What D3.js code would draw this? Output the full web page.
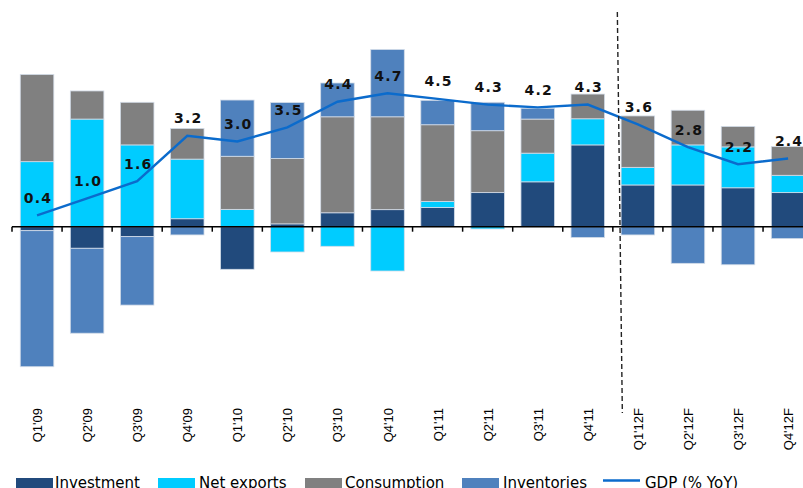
<!DOCTYPE html>
<html>
<head>
<meta charset="utf-8">
<script src="https://cdn.jsdelivr.net/npm/d3@7"></script>
<style>
  html, body { margin: 0; padding: 0; background: #fff; }
  svg { display: block; }
</style>
</head>
<body>
<svg id="chart" width="803" height="488"></svg>
<script>
const categories = ["Q1'09","Q2'09","Q3'09","Q4'09","Q1'10","Q2'10","Q3'10","Q4'10","Q1'11","Q2'11","Q3'11","Q4'11","Q1'12F","Q2'12F","Q3'12F","Q4'12F"];
const investment  = [-0.14,-0.76,-0.35, 0.28,-1.50, 0.10, 0.49, 0.60, 0.68, 1.20, 1.58, 2.88, 1.47, 1.47, 1.37, 1.20];
const netExports  = [ 2.29, 3.79, 2.88, 2.10, 0.61,-0.89,-0.69,-1.56, 0.21,-0.08, 1.01, 0.92, 0.62, 1.41, 1.44, 0.61];
const consumption = [ 3.07, 0.99, 1.50, 1.08, 1.87, 2.30, 3.38, 3.27, 2.70, 2.18, 1.20, 0.87, 1.81, 1.22, 0.72, 1.01];
const inventories = [-4.79,-2.99,-2.41,-0.29, 1.98, 1.97, 1.19, 2.37, 0.86, 1.00, 0.38,-0.38,-0.29,-1.29,-1.34,-0.42];
const gdp         = [0.4, 1.0, 1.6, 3.2, 3.0, 3.5, 4.4, 4.7, 4.5, 4.3, 4.2, 4.3, 3.6, 2.8, 2.2, 2.4];
const seriesNames = ["Investment","Net exports","Consumption","Inventories"];
const lineName = "GDP (% YoY)";
const firstForecast = "Q1'12F";

const colors = {"Investment":"#214a7c","Net exports":"#00ccff","Consumption":"#808080","Inventories":"#4f81bd"};
const lineColor = "#0b6bcc";

const svg = d3.select("#chart");

const x = d3.scaleBand().domain(categories).range([12, 12 + 16 * 50.07]).paddingInner(0.33).paddingOuter(0.165);
const y = d3.scaleLinear().domain([-5, 5]).range([226.7 + 142, 226.7 - 142]);

const rows = categories.map((c, i) => ({
  cat: c,
  "Investment": investment[i],
  "Net exports": netExports[i],
  "Consumption": consumption[i],
  "Inventories": inventories[i]
}));

const stacked = d3.stack().keys(seriesNames).offset(d3.stackOffsetDiverging)(rows);

svg.append("g").selectAll("g")
  .data(stacked)
  .join("g")
  .attr("fill", d => colors[d.key])
  .selectAll("rect")
  .data(d => d)
  .join("rect")
  .attr("x", d => x(d.data.cat))
  .attr("width", x.bandwidth())
  .attr("y", d => y(Math.max(d[0], d[1])))
  .attr("height", d => Math.abs(y(d[0]) - y(d[1])))
  .attr("stroke", "#d3dce8")
  .attr("stroke-width", 0.8);

// zero axis
const step = x.step();
const off = (step - x.bandwidth()) / 2;
const left = x(categories[0]) - off;
svg.append("line")
  .attr("x1", left).attr("x2", 803 + 20)
  .attr("y1", y(0)).attr("y2", y(0))
  .attr("stroke", "#000").attr("stroke-width", 1.6);
svg.append("g").selectAll("line")
  .data(d3.range(categories.length + 1))
  .join("line")
  .attr("x1", i => left + i * step).attr("x2", i => left + i * step)
  .attr("y1", y(0)).attr("y2", y(0) + 5)
  .attr("stroke", "#000").attr("stroke-width", 1.5);

// category labels
svg.append("g").selectAll("text")
  .data(categories)
  .join("text")
  .attr("transform", c => `translate(${x(c) + x.bandwidth() / 2 + 5},408) rotate(-90)`)
  .attr("text-anchor", "end")
  .attr("font-family", "'Liberation Sans', Arial, sans-serif")
  .attr("font-size", 13)
  .attr("fill", "#000")
  .text(c => c);

// GDP line
const line = d3.line()
  .x((d, i) => x(categories[i]) + x.bandwidth() / 2)
  .y(d => y(d));
svg.append("path")
  .datum(gdp)
  .attr("d", line)
  .attr("fill", "none")
  .attr("stroke", lineColor)
  .attr("stroke-width", 2.4);

// data labels
svg.append("g").selectAll("text")
  .data(gdp)
  .join("text")
  .attr("x", (d, i) => x(categories[i]) + x.bandwidth() / 2 + 1)
  .attr("y", d => y(d) - 12.5)
  .attr("text-anchor", "middle")
  .attr("font-family", "'DejaVu Sans', Verdana, sans-serif")
  .attr("font-weight", "bold")
  .attr("font-size", 14)
  .attr("letter-spacing", 1.2)
  .attr("fill", "#111")
  .text(d => d.toFixed(1));

// forecast divider
const divX = x(firstForecast) - off;
svg.append("line")
  .attr("x1", divX + 4.5).attr("y1", 12)
  .attr("x2", divX + 9.5).attr("y2", 413)
  .attr("stroke", "#222").attr("stroke-width", 1.4)
  .attr("stroke-dasharray", "5,3");

// legend
const legendItems = [
  {name: seriesNames[0], sx: 16, tx: 55},
  {name: seriesNames[1], sx: 158, tx: 199},
  {name: seriesNames[2], sx: 305, tx: 345},
  {name: seriesNames[3], sx: 462, tx: 503},
  {name: lineName, sx: 603, tx: 645, line: true}
];
const lg = svg.append("g");
legendItems.forEach(it => {
  if (it.line) {
    lg.append("line").attr("x1", it.sx).attr("x2", it.sx + 37)
      .attr("y1", 480.5).attr("y2", 480.5)
      .attr("stroke", lineColor).attr("stroke-width", 2.4);
  } else {
    lg.append("rect").attr("x", it.sx).attr("y", 478).attr("width", 37).attr("height", 12)
      .attr("fill", colors[it.name]);
  }
  lg.append("text").attr("x", it.tx).attr("y", 488)
    .attr("font-family", "'DejaVu Sans', Verdana, sans-serif")
    .attr("font-size", 15)
    .attr("fill", "#000")
    .text(it.name);
});
</script>
</body>
</html>
